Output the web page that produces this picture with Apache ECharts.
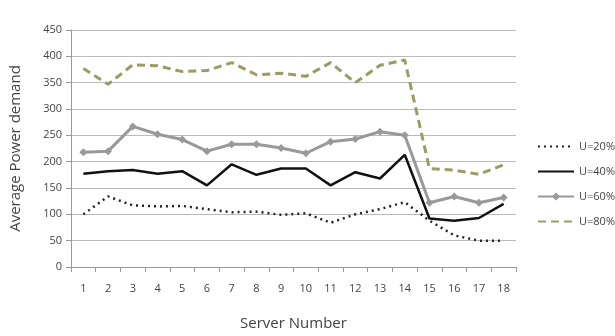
<!DOCTYPE html>
<html>
<head>
<meta charset="utf-8">
<script src="https://cdn.jsdelivr.net/npm/echarts@6/dist/echarts.min.js"></script>
<style>
  html, body { margin: 0; padding: 0; background: #fff; }
  #chart { width: 615px; height: 336px; }
</style>
</head>
<body>
<div id="chart"></div>
<script>
const servers = ['1', '2', '3', '4', '5', '6', '7', '8', '9', '10', '11', '12', '13', '14', '15', '16', '17', '18']
const u20 = [100, 134, 117, 115, 116, 110, 104, 105, 99, 102, 84, 100, 110, 123, 88, 60, 50, 50]
const u40 = [177, 182, 184, 177, 182, 155, 195, 175, 187, 187, 155, 180, 168, 213, 92, 88, 93, 120]
const u60 = [218, 220, 267, 252, 242, 220, 233, 233, 226, 216, 238, 243, 257, 250, 122, 134, 122, 132]
const u80 = [377, 347, 384, 382, 371, 373, 388, 365, 368, 362, 388, 350, 383, 393, 187, 184, 176, 194]

const chart = echarts.init(document.getElementById('chart'))

const axisText = { color: '#444', fontFamily: 'Open Sans', fontSize: 11 }
const nameText = { color: '#444', fontFamily: 'Open Sans', fontSize: 15 }
const hideDot = { opacity: 0 }

chart.setOption({
  animation: false,
  backgroundColor: '#fff',
  grid: { left: 71, right: 99, top: 30, bottom: 69 },
  legend: {
    orient: 'vertical',
    left: 532,
    top: 136,
    itemWidth: 36,
    itemHeight: 10,
    itemGap: 14,
    textStyle: { color: '#444', fontFamily: 'Open Sans', fontSize: 11 },
    data: [
      { name: 'U=20%', itemStyle: hideDot },
      { name: 'U=40%', itemStyle: hideDot },
      { name: 'U=60%' },
      { name: 'U=80%', itemStyle: hideDot },
    ],
  },
  xAxis: {
    type: 'category',
    data: servers,
    boundaryGap: true,
    name: 'Server Number',
    nameLocation: 'middle',
    nameGap: 49,
    nameTextStyle: nameText,
    axisLine: { lineStyle: { color: '#999' } },
    axisTick: { show: true, length: 5, lineStyle: { color: '#999' } },
    axisLabel: { ...axisText, margin: 16 },
  },
  yAxis: {
    type: 'value',
    min: 0,
    max: 450,
    interval: 50,
    name: 'Average Power demand',
    nameLocation: 'middle',
    nameGap: 48,
    nameTextStyle: nameText,
    axisLine: { show: true, lineStyle: { color: '#999' } },
    axisTick: { show: true, length: 5, lineStyle: { color: '#999' } },
    axisLabel: { ...axisText, margin: 9 },
    splitLine: { lineStyle: { color: '#bbb' } },
  },
  series: [
    {
      name: 'U=20%',
      type: 'line',
      data: u20,
      symbol: 'none',
      lineStyle: { color: '#222', width: 2.5, type: [2, 4] },
      itemStyle: { color: '#222' },
    },
    {
      name: 'U=40%',
      type: 'line',
      data: u40,
      symbol: 'none',
      lineStyle: { color: '#111', width: 2.5 },
      itemStyle: { color: '#111' },
    },
    {
      name: 'U=60%',
      type: 'line',
      data: u60,
      symbol: 'diamond',
      symbolSize: 8,
      lineStyle: { color: '#999', width: 3 },
      itemStyle: { color: '#999' },
    },
    {
      name: 'U=80%',
      type: 'line',
      data: u80,
      symbol: 'none',
      lineStyle: { color: '#9b9b63', width: 3, type: [8, 5] },
      itemStyle: { color: '#9b9b63' },
    },
  ],
})
</script>
</body>
</html>
